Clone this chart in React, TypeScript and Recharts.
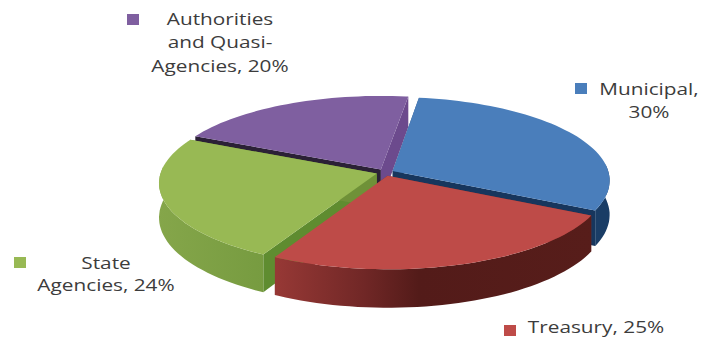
import { PieChart, Pie } from 'recharts';

const categories = ['Municipal', 'Treasury', 'State Agencies', 'Authorities and Quasi-Agencies'];
const shares = [30, 25, 24, 20];
const labelLines = [
  ['Municipal,', '30%'],
  ['Treasury, 25%'],
  ['State', 'Agencies, 24%'],
  ['Authorities', 'and Quasi-', 'Agencies, 20%'],
];

const topFills = ['#4a7ebb', '#be4b48', '#98b954', '#7f5fa0'];
const rimFills = ['#1a3d66', 'url(#redRim)', 'url(#greenRim)', '#5f4478'];
const startWallFills = ['#2f5586', '#7a2f2d', '#5f8c30', '#2b2136'];
const endWallFills = ['#17365d', '#7a2f2d', '#6f9138', '#6c4a8d'];

// swatch corner, text centre x and first baseline for each label block
const labelBoxes = [
  { swatchX: 575, swatchY: 83, textX: 649, baseline: 95, lineGap: 23 },
  { swatchX: 504, swatchY: 325, textX: 596, baseline: 333, lineGap: 23 },
  { swatchX: 14, swatchY: 257, textX: 106, baseline: 269, lineGap: 22 },
  { swatchX: 127, swatchY: 14, textX: 220, baseline: 25, lineGap: 23.5 },
];

const rows = categories.map((name, i) => ({ name, value: shares[i], fill: topFills[i] }));

const CENTER_X = 385;
const CENTER_Y = 172.5;
const RADIUS = 216;
const TILT = 82.5;
const PERSPECTIVE = 0.111;
const DEPTH = 34;
const EXPLODE = 0.04;
const STEP = 2;
const TEXT_STRETCH = 1.26;

type Pt = [number, number];

// Tilted-disc projection: u runs right, v runs toward the viewer, both in radius units.
function project(u: number, v: number, cx: number, cy: number, r: number, drop = 0): Pt {
  const w = 1 / (1 - PERSPECTIVE * v);
  return [cx + r * u * w, cy + TILT * v * w + drop * w];
}

function rimPoint(angle: number, mid: number, cx: number, cy: number, r: number, drop = 0): Pt {
  const rad = (angle * Math.PI) / 180;
  const m = (mid * Math.PI) / 180;
  return project(
    Math.cos(rad) + EXPLODE * Math.cos(m),
    -Math.sin(rad) - EXPLODE * Math.sin(m),
    cx,
    cy,
    r,
    drop,
  );
}

function apexPoint(mid: number, cx: number, cy: number, r: number, drop = 0): Pt {
  const m = (mid * Math.PI) / 180;
  return project(EXPLODE * Math.cos(m), -EXPLODE * Math.sin(m), cx, cy, r, drop);
}

function toPath(points: Pt[]) {
  return 'M' + points.map((p) => `${p[0].toFixed(1)},${p[1].toFixed(1)}`).join('L') + 'Z';
}

function sweep(from: number, to: number) {
  const angles: number[] = [];
  for (let a = from; a > to; a -= STEP) angles.push(a);
  angles.push(to);
  return angles;
}

// Walls are split in two passes so the back slice's wall sits under the others.
const radialWalls = (indices: number[]) => (props: any) => {
  const { cx, cy, outerRadius: r, startAngle, endAngle, index } = props;
  if (!indices.includes(index)) return <g />;
  const mid = (startAngle + endAngle) / 2;
  const wall = (angle: number) =>
    toPath([
      apexPoint(mid, cx, cy, r),
      rimPoint(angle, mid, cx, cy, r),
      rimPoint(angle, mid, cx, cy, r, DEPTH),
      apexPoint(mid, cx, cy, r, DEPTH),
    ]);
  return (
    <g>
      <path d={wall(startAngle)} fill={startWallFills[index]} />
      <path d={wall(endAngle)} fill={endWallFills[index]} />
    </g>
  );
};

function OuterRim(props: any) {
  const { cx, cy, outerRadius: r, startAngle, endAngle, index } = props;
  const mid = (startAngle + endAngle) / 2;
  // only the part of the rim that faces the viewer
  const from = Math.min(startAngle, 5);
  const to = Math.max(endAngle, -185);
  if (from <= to) return <g />;
  const angles = sweep(from, to);
  const upper = angles.map((a) => rimPoint(a, mid, cx, cy, r));
  const lower = angles.map((a) => rimPoint(a, mid, cx, cy, r, DEPTH)).reverse();
  return <path d={toPath([...upper, ...lower])} fill={rimFills[index]} />;
}

function TopFace(props: any) {
  const { cx, cy, outerRadius: r, startAngle, endAngle, fill } = props;
  const mid = (startAngle + endAngle) / 2;
  const arc = sweep(startAngle, endAngle).map((a) => rimPoint(a, mid, cx, cy, r));
  return <path d={toPath([apexPoint(mid, cx, cy, r), ...arc])} fill={fill} />;
}

function SliceLabel(props: any) {
  const { index } = props;
  const box = labelBoxes[index];
  return (
    <g>
      <rect x={box.swatchX} y={box.swatchY} width={12} height={11} fill={topFills[index]} />
      <text
        transform={`translate(${box.textX} 0) scale(${TEXT_STRETCH} 1)`}
        textAnchor="middle"
        fontFamily="'Open Sans', sans-serif"
        fontSize={16.5}
        fill="#3c3c3c"
      >
        {labelLines[index].map((line, i) => (
          <tspan key={line} x={0} y={box.baseline + i * box.lineGap}>
            {line}
          </tspan>
        ))}
      </text>
    </g>
  );
}

const pieProps = {
  data: rows,
  dataKey: 'value',
  nameKey: 'name',
  cx: CENTER_X,
  cy: CENTER_Y,
  outerRadius: RADIUS,
  startAngle: 82,
  endAngle: -278,
  stroke: 'none',
  isAnimationActive: false,
};

export default function App() {
  return (
    <div style={{ position: 'absolute', left: 0, top: 0, width: 701, height: 338, overflow: 'hidden', background: '#fff' }}>
      <PieChart width={701} height={338} margin={{ top: 0, right: 0, bottom: 0, left: 0 }}>
        <defs>
          <linearGradient id="redRim" gradientUnits="userSpaceOnUse" x1={277} y1={0} x2={592} y2={0}>
            <stop offset="0" stopColor="#963835" />
            <stop offset="0.28" stopColor="#702726" />
            <stop offset="0.45" stopColor="#531b19" />
            <stop offset="1" stopColor="#571d1a" />
          </linearGradient>
          <linearGradient id="greenRim" gradientUnits="userSpaceOnUse" x1={158} y1={0} x2={277} y2={0}>
            <stop offset="0" stopColor="#85a64a" />
            <stop offset="1" stopColor="#759a3f" />
          </linearGradient>
        </defs>
        <Pie {...pieProps} shape={radialWalls([3])} />
        <Pie {...pieProps} shape={radialWalls([0, 1, 2])} />
        <Pie {...pieProps} shape={OuterRim} />
        <Pie {...pieProps} shape={TopFace} label={SliceLabel} labelLine={false} />
      </PieChart>
    </div>
  );
}
